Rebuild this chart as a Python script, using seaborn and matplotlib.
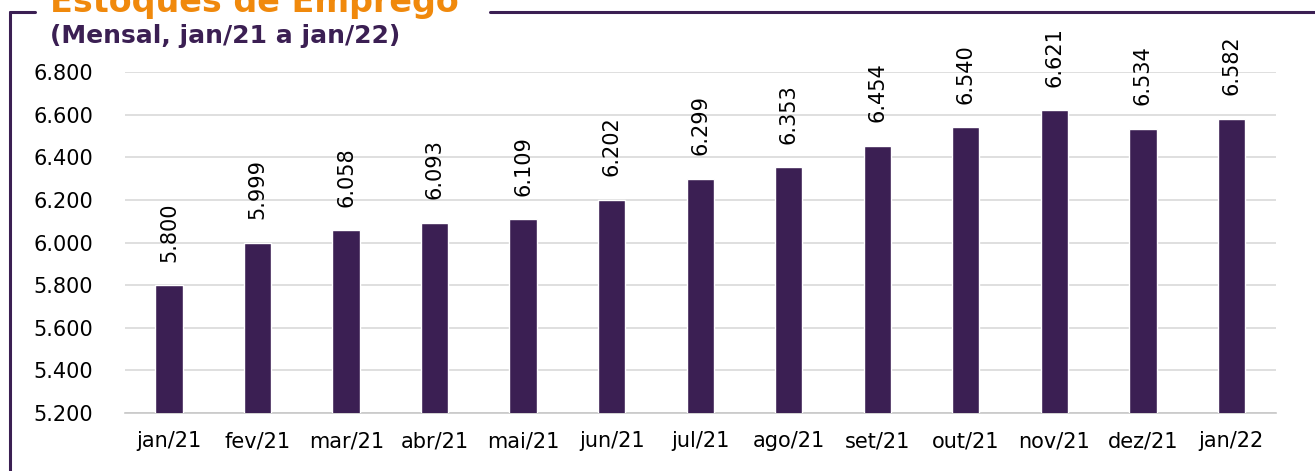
import matplotlib
matplotlib.use("Agg")
import numpy as np
import pandas as pd
import matplotlib.pyplot as plt
import seaborn as sns
from matplotlib.lines import Line2D
from matplotlib.ticker import FixedLocator, FuncFormatter

# data
meses = ['jan/21', 'fev/21', 'mar/21', 'abr/21', 'mai/21', 'jun/21', 'jul/21',
         'ago/21', 'set/21', 'out/21', 'nov/21', 'dez/21', 'jan/22']
estoque = [5800, 5999, 6058, 6093, 6109, 6202, 6299, 6353, 6454, 6540, 6621, 6534, 6582]

roxo = '#3b1f53'
laranja = '#f0890c'

sns.set_theme(style='white')
plt.rcParams['font.family'] = ['DejaVu Sans']

df = pd.DataFrame({'mes': meses, 'estoque': estoque})

fig = plt.figure(figsize=(13.15, 4.71), dpi=100)
ax = fig.add_axes([0.095, 0.123, 0.875, 0.724])

sns.barplot(data=df, x='mes', y='estoque', color=roxo, width=0.31,
            saturation=1, ax=ax, zorder=3)

ax.set_ylim(5200, 6800)
ax.set_yticks(np.arange(5200, 6801, 200))
ax.yaxis.set_major_formatter(FuncFormatter(lambda v, p: f'{v:,.0f}'.replace(',', '.')))
ax.grid(axis='y', color='#d9d9d9', linewidth=1.2, zorder=0)
ax.set_xlim(-0.5, len(meses) - 0.5)
ax.set_xlabel('')
ax.set_ylabel('')

for s in ['top', 'right', 'left']:
    ax.spines[s].set_visible(False)
ax.spines['bottom'].set_color('#c8c8c8')
ax.spines['bottom'].set_linewidth(1.2)

ax.tick_params(axis='y', length=0, labelsize=15, pad=23, labelcolor='black')
ax.tick_params(axis='x', which='major', length=0, labelsize=15, pad=13, labelcolor='black')
ax.xaxis.set_minor_locator(FixedLocator(np.arange(-0.5, len(meses), 1)))
ax.tick_params(axis='x', which='minor', length=7, width=1.2, color='#c8c8c8', direction='out')

for i, v in enumerate(estoque):
    ax.text(i, v + 110, f'{v:,}'.replace(',', '.'), rotation=90, ha='center', va='bottom',
            fontsize=15, color='black', clip_on=False)

# moldura e titulos
fig.add_artist(Line2D([10 / 1315, 10 / 1315], [0, 1 - 12 / 471], color=roxo, lw=2.2))
fig.add_artist(Line2D([10 / 1315, 35 / 1315], [1 - 12 / 471] * 2, color=roxo, lw=2.2))
fig.add_artist(Line2D([490 / 1315, 1], [1 - 12 / 471] * 2, color=roxo, lw=2.2))

fig.text(50 / 1315, 1 - 12 / 471, 'Estoques de Emprego', color=laranja, fontsize=24,
         fontweight='bold', ha='left', va='baseline')
fig.text(50 / 1315, 1 - 43 / 471, '(Mensal, jan/21 a jan/22)', color=roxo, fontsize=18,
         fontweight='bold', ha='left', va='baseline')

fig.savefig('out.png', dpi=100)
